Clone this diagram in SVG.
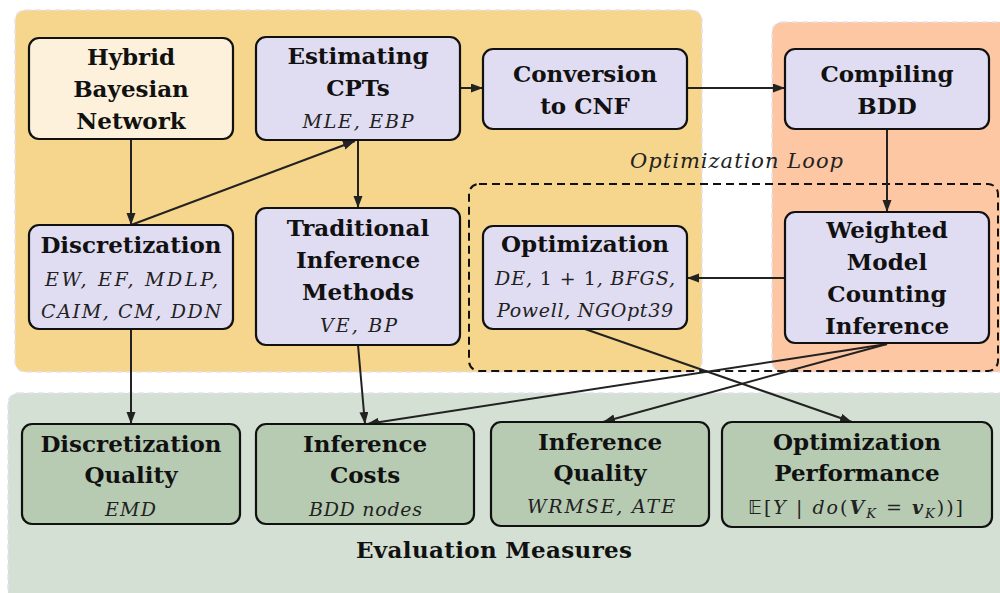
<svg xmlns="http://www.w3.org/2000/svg" width="1000" height="593" viewBox="0 0 1000 593">
<defs>
<marker id="arr" markerWidth="13" markerHeight="10" refX="12" refY="4.5" orient="auto" markerUnits="userSpaceOnUse">
<path d="M0,0 L12,4.5 L0,9 Z" fill="#222"/>
</marker>
<style>
.bg{stroke:#E4E2F2;stroke-width:1.5;stroke-dasharray:6 4}
.node{stroke:#111;stroke-width:2.2}
.lav{fill:#E0DCF1}
.grn{fill:#B7CBB3}
.t{font-family:"DejaVu Serif","Liberation Serif",serif;font-weight:bold;font-size:23px;fill:#111;text-anchor:middle}
.i{font-family:"DejaVu Serif","Liberation Serif",serif;font-style:italic;font-size:19px;fill:#222;text-anchor:middle}
.e{stroke:#222;stroke-width:2;fill:none;marker-end:url(#arr)}
</style>
</defs>
<rect width="1000" height="593" fill="#fff"/>
<rect class="bg" x="15" y="10" width="687" height="362" rx="10" fill="#F6D58C"/>
<rect class="bg" x="772" y="22" width="240" height="350" rx="10" fill="#FDC7A3"/>
<rect class="bg" x="8" y="393" width="1010" height="215" rx="10" fill="#D4E0D3"/>
<rect x="469" y="184" width="529" height="187" rx="10" fill="none" stroke="#111" stroke-width="2" stroke-dasharray="8 5"/>
<text x="736.5" y="168" class="i" style="font-size:21px" textLength="213">Optimization Loop</text>
<text x="494" y="558" class="t" style="font-size:23px" textLength="276">Evaluation Measures</text>

<g id="connectors">
<line class="e" x1="131" y1="139" x2="131" y2="225"/>
<line class="e" x1="131" y1="225" x2="355" y2="141"/>
<line class="e" x1="358" y1="140" x2="358" y2="208"/>
<line class="e" x1="460" y1="88" x2="483" y2="88"/>
<line class="e" x1="687" y1="88" x2="785" y2="88"/>
<line class="e" x1="887" y1="129" x2="887" y2="212"/>
<line class="e" x1="785" y1="278" x2="687" y2="278"/>
<line class="e" x1="131" y1="329" x2="131" y2="424"/>
<line class="e" x1="358" y1="345" x2="365" y2="424"/>
<line class="e" x1="887" y1="344" x2="367" y2="424"/>
<line class="e" x1="887" y1="344" x2="603" y2="422"/>
<line class="e" x1="585" y1="329" x2="852" y2="422"/>
</g>

<g id="hbn">
<rect class="node" x="29" y="38" width="204" height="101" rx="10" fill="#FDF1DB"/>
<text class="t" x="131" y="65">Hybrid</text>
<text class="t" x="131" y="97">Bayesian</text>
<text class="t" x="131" y="129">Network</text>
</g>
<g id="estimating">
<rect class="node lav" x="256" y="37" width="204" height="103" rx="10"/>
<text class="t" x="358" y="64">Estimating</text>
<text class="t" x="358" y="96">CPTs</text>
<text class="i" x="358" y="128" textLength="111">MLE, EBP</text>
</g>
<g id="conversion">
<rect class="node lav" x="483" y="49" width="204" height="80" rx="10"/>
<text class="t" x="585" y="82">Conversion</text>
<text class="t" x="585" y="114">to CNF</text>
</g>
<g id="compiling">
<rect class="node lav" x="785" y="49" width="204" height="80" rx="10"/>
<text class="t" x="887" y="82">Compiling</text>
<text class="t" x="887" y="114">BDD</text>
</g>
<g id="discretization">
<rect class="node lav" x="29" y="225" width="204" height="104" rx="10"/>
<text class="t" x="131" y="253">Discretization</text>
<text class="i" x="131.5" y="286" textLength="173">EW, EF, MDLP,</text>
<text class="i" x="131" y="318" textLength="180">CAIM, CM, DDN</text>
</g>
<g id="traditional">
<rect class="node lav" x="256" y="208" width="204" height="137" rx="10"/>
<text class="t" x="358" y="236">Traditional</text>
<text class="t" x="358" y="268">Inference</text>
<text class="t" x="358" y="300">Methods</text>
<text class="i" x="358.5" y="332" textLength="77">VE, BP</text>
</g>
<g id="optimization">
<rect class="node lav" x="483" y="226" width="204" height="103" rx="10"/>
<text class="t" x="585" y="252">Optimization</text>
<text class="i" x="585" y="285" textLength="180">DE, <tspan font-style="normal">1 + 1</tspan>, BFGS,</text>
<text class="i" x="585" y="317" textLength="176">Powell, NGOpt39</text>
</g>
<g id="wmc">
<rect class="node lav" x="785" y="212" width="204" height="131" rx="10"/>
<text class="t" x="887" y="238">Weighted</text>
<text class="t" x="887" y="270">Model</text>
<text class="t" x="887" y="302">Counting</text>
<text class="t" x="887" y="334">Inference</text>
</g>
<g id="disc-quality">
<rect class="node grn" x="22" y="424" width="218" height="100" rx="10"/>
<text class="t" x="131" y="452">Discretization</text>
<text class="t" x="131" y="483">Quality</text>
<text class="i" x="130.5" y="516" textLength="51">EMD</text>
</g>
<g id="inf-costs">
<rect class="node grn" x="256" y="424" width="218" height="100" rx="10"/>
<text class="t" x="365" y="452">Inference</text>
<text class="t" x="365" y="483">Costs</text>
<text class="i" x="365.5" y="516" textLength="113">BDD nodes</text>
</g>
<g id="inf-quality">
<rect class="node grn" x="491" y="422" width="218" height="104" rx="10"/>
<text class="t" x="600" y="450">Inference</text>
<text class="t" x="600" y="481">Quality</text>
<text class="i" x="601" y="513" textLength="148">WRMSE, ATE</text>
</g>
<g id="opt-perf">
<rect class="node grn" x="722" y="422" width="270" height="105" rx="10"/>
<text class="t" x="857" y="450">Optimization</text>
<text class="t" x="857" y="481">Performance</text>
<text class="i" x="855.5" y="514" textLength="215"><tspan font-style="normal" font-family="DejaVu Sans, sans-serif">𝔼</tspan><tspan font-style="normal">[</tspan>Y <tspan font-style="normal">|</tspan> do<tspan font-style="normal">(</tspan><tspan font-weight="bold">V</tspan><tspan font-size="13" dy="4">K</tspan><tspan dy="-4" font-style="normal"> = </tspan><tspan font-weight="bold">v</tspan><tspan font-size="13" dy="4">K</tspan><tspan dy="-4" font-style="normal">))]</tspan></text>
</g>
</svg>
